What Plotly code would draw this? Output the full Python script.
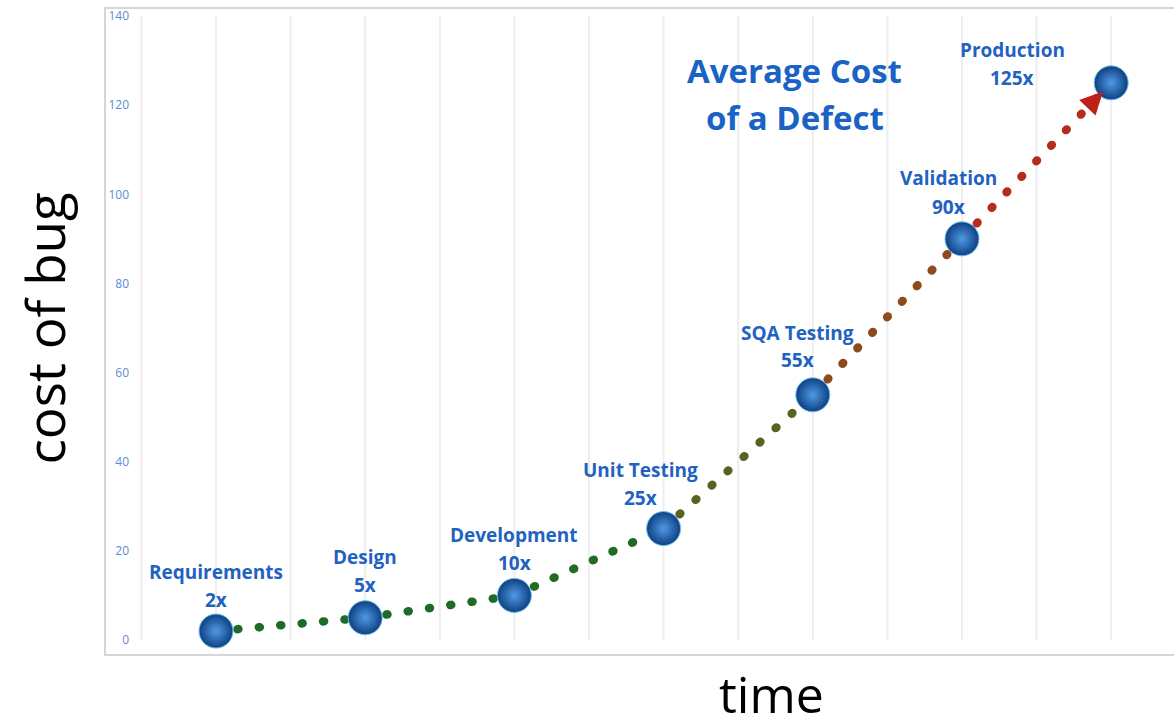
import plotly.graph_objects as go

# ---- data ----
stages = ["Requirements", "Design", "Development", "Unit Testing", "SQA Testing", "Validation", "Production"]
multipliers = ["2x", "5x", "10x", "25x", "55x", "90x", "125x"]
cost = [2, 5, 10, 25, 55, 90, 125]
y_ticks = [0, 20, 40, 60, 80, 100, 120, 140]
grid_x = [0.5, 1, 1.5, 2, 2.5, 3, 3.5, 4, 4.5, 5, 5.5, 6, 6.5, 7]

x_pos = list(range(1, len(stages) + 1))

# ---- styling ----
seg_colors = ["#1d6b29", "#1d6b27", "#246b22", "#556420", "#8c4a1d", "#b42c1c"]
label_dx = [0, 0, 0, -23, -15, -13, -99]
name_dy = [59, 61, 60, 59, 62, 61, 33]
mult_dy = [31, 33, 32, 31, 35, 32, 5]
label_color = "#1f62c2"

fig = go.Figure()

# dotted connectors
for i in range(len(x_pos) - 1):
    fig.add_trace(go.Scatter(
        x=x_pos[i:i + 2], y=cost[i:i + 2], mode="lines",
        line=dict(color=seg_colors[i], width=8.5, dash="1px,20.5px"),
        hoverinfo="skip", showlegend=False))

# spheres
fig.add_trace(go.Scatter(
    x=x_pos, y=cost, mode="markers",
    marker=dict(size=34, color="#0f3f82",
                gradient=dict(type="radial", color="#4f9ae4"),
                line=dict(color="#6cc0ea", width=1)),
    text=stages, hoverinfo="text", showlegend=False))

annotations = []
for i, (name, mult) in enumerate(zip(stages, multipliers)):
    annotations.append(dict(x=x_pos[i], y=cost[i], xref="x", yref="y", text=name,
                            showarrow=False, xshift=label_dx[i], yshift=name_dy[i],
                            xanchor="center", yanchor="middle",
                            font=dict(family="Open Sans", size=19, color=label_color, weight="bold")))
    annotations.append(dict(x=x_pos[i], y=cost[i], xref="x", yref="y", text=mult,
                            showarrow=False, xshift=label_dx[i], yshift=mult_dy[i],
                            xanchor="center", yanchor="middle",
                            font=dict(family="Open Sans", size=19, color=label_color, weight="bold")))

# arrowhead at the end of the curve
annotations.append(dict(x=x_pos[-1], y=cost[-1], xref="x", yref="y", text="",
                        showarrow=True, arrowhead=2, arrowsize=1.5, arrowwidth=3,
                        arrowcolor="#c0201a", ax=-20, ay=21, standoff=12))

# title
annotations.append(dict(x=0.635, y=0.903, xref="paper", yref="paper", text="Average Cost",
                        showarrow=False, xanchor="center", yanchor="middle",
                        font=dict(family="Open Sans", size=33, color="#1a62c4", weight="bold")))
annotations.append(dict(x=0.635, y=0.830, xref="paper", yref="paper", text="of a Defect",
                        showarrow=False, xanchor="center", yanchor="middle",
                        font=dict(family="Open Sans", size=33, color="#1a62c4", weight="bold")))

# axis titles
annotations.append(dict(x=-0.087, y=0.504, xref="paper", yref="paper", text="cost of bug",
                        showarrow=False, textangle=-90, xanchor="center", yanchor="middle",
                        font=dict(family="Open Sans", size=53, color="#000000")))
annotations.append(dict(x=0.613, y=-0.0605, xref="paper", yref="paper", text="time",
                        showarrow=False, xanchor="center", yanchor="middle",
                        font=dict(family="Open Sans", size=50, color="#000000")))

shapes = []
for gx in grid_x:
    shapes.append(dict(type="line", xref="x", yref="y", x0=gx, x1=gx, y0=y_ticks[0], y1=y_ticks[-1],
                       line=dict(color="#eeeeee", width=2), layer="below"))
# frame
shapes.append(dict(type="rect", xref="paper", yref="paper", x0=-0.0289, x1=1.02, y0=0, y1=1,
                   line=dict(color="#d6d6d6", width=2), layer="below"))

fig.update_layout(
    width=1174, height=727,
    margin=dict(l=135, r=0, t=8, b=72),
    paper_bgcolor="white", plot_bgcolor="white",
    showlegend=False,
    annotations=annotations, shapes=shapes,
    xaxis=dict(range=[0.4571, 7.421], showgrid=False, zeroline=False, showticklabels=False,
               showline=False, ticks=""),
    yaxis=dict(range=[-3.37, 141.8], tickvals=y_ticks, ticktext=[str(v) for v in y_ticks],
               showgrid=False, zeroline=False, showline=False, ticks="",
               ticklabelstandoff=5,
               tickfont=dict(family="Open Sans", size=12, color="#5a8dd4")),
)

fig.write_html("out.html",
               post_script="document.querySelectorAll('.js-line').forEach(function(p){p.style.strokeLinecap='round';});")
